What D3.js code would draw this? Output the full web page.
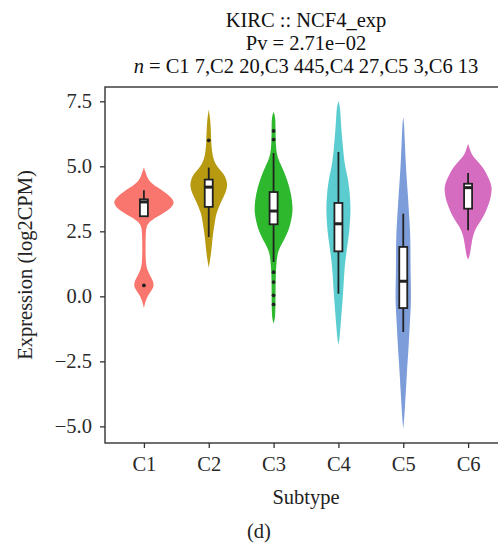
<!DOCTYPE html>
<html>
<head>
<meta charset="utf-8">
<script src="https://cdn.jsdelivr.net/npm/d3@7"></script>
<style>
  body { margin: 0; background: #fff; }
  svg text { font-family: "Liberation Serif", "DejaVu Serif", serif; }
</style>
</head>
<body>
<div id="chart"></div>
<script>
// subtypes and their colours
var subtypes = ["C1", "C2", "C3", "C4", "C5", "C6"];
var colors = ["#F8766D", "#B79A10", "#2DB82D", "#5BCDD0", "#7C9CDA", "#D66CC0"];
var yTicks = [-5, -2.5, 0, 2.5, 5, 7.5];

// violin outlines: [expression, relative density]
var densC1 = [[4.95,0],[4.8,0.05],[4.6,0.1],[4.4,0.2],[4.2,0.43],[4.0,0.7],[3.8,0.9],[3.65,1.0],[3.5,0.97],[3.3,0.8],[3.1,0.5],[2.9,0.2],[2.7,0.08],[2.4,0.06],[2.0,0.053],[1.6,0.053],[1.2,0.07],[1.0,0.12],[0.8,0.2],[0.6,0.3],[0.45,0.33],[0.3,0.3],[0.1,0.17],[-0.1,0.08],[-0.3,0.03],[-0.45,0]];
var densC2 = [[7.18,0],[6.8,0.05],[6.4,0.07],[6.0,0.08],[5.6,0.1],[5.23,0.16],[4.95,0.3],[4.72,0.5],[4.45,0.6],[4.23,0.62],[3.95,0.55],[3.69,0.43],[3.4,0.33],[3.18,0.25],[2.85,0.2],[2.54,0.16],[2.2,0.12],[1.9,0.1],[1.5,0.06],[1.1,0]];
var densC3 = [[7.09,0],[6.9,0.06],[6.5,0.065],[6.0,0.07],[5.8,0.08],[5.49,0.1],[5.2,0.18],[4.97,0.28],[4.46,0.46],[3.95,0.58],[3.5,0.63],[3.2,0.63],[2.9,0.58],[2.54,0.5],[2.3,0.4],[2.03,0.28],[1.8,0.18],[1.64,0.13],[1.13,0.08],[0.5,0.065],[0,0.065],[-0.6,0.06],[-0.9,0.04],[-1.04,0]];
var densC4 = [[7.51,0],[7.3,0.05],[7.03,0.067],[6.38,0.1],[5.74,0.15],[5.1,0.2],[4.59,0.31],[3.95,0.38],[3.5,0.4],[3.18,0.4],[2.54,0.37],[1.9,0.29],[1.13,0.2],[0.36,0.17],[-0.41,0.12],[-1.18,0.067],[-1.6,0.04],[-1.88,0]];
var densC5 = [[6.9,0],[6.6,0.03],[6.0,0.05],[5.2,0.08],[4.59,0.11],[3.8,0.16],[3.18,0.19],[2.5,0.23],[1.8,0.24],[1.2,0.24],[0.5,0.25],[-0.15,0.26],[-0.8,0.23],[-1.44,0.2],[-2.1,0.17],[-2.72,0.13],[-3.4,0.1],[-4.0,0.067],[-4.6,0.04],[-5.09,0]];
var densC6 = [[5.87,0],[5.7,0.05],[5.49,0.1],[5.3,0.22],[5.1,0.39],[4.9,0.52],[4.72,0.61],[4.45,0.72],[4.2,0.79],[3.95,0.77],[3.69,0.73],[3.45,0.65],[3.18,0.56],[2.9,0.42],[2.67,0.28],[2.4,0.18],[2.15,0.13],[1.77,0.083],[1.55,0.05],[1.41,0]];
var densities = [densC1, densC2, densC3, densC4, densC5, densC6];

// boxplot stats per subtype
var whiskLo = [3.08, 2.28, 1.32, 0.10, -1.37, 2.54];
var q1 = [3.08, 3.44, 2.77, 1.73, -0.45, 3.37];
var median = [3.63, 4.20, 3.28, 2.79, 0.58, 4.18];
var q3 = [3.73, 4.49, 4.01, 3.59, 1.90, 4.33];
var whiskHi = [4.08, 4.95, 5.51, 5.55, 3.18, 4.74];
// outliers: [subtype, value]
var outliers = [["C1", 0.42], ["C2", 6.0], ["C3", 6.36], ["C3", 6.03], ["C3", 0.93], ["C3", 0.55], ["C3", 0.04], ["C3", -0.31]];

var titleLines = ["KIRC :: NCF4_exp", "Pv = 2.71e\u221202"];
var nCounts = [7, 20, 445, 27, 3, 13];

var svgWidth = 498, svgHeight = 548;
var panel = { left: 105, right: 507, top: 87, bottom: 443 };
var fontSize = "20.5px";
var serif = "'Liberation Serif', 'DejaVu Serif', serif";

var svg = d3.select("#chart").append("svg")
    .attr("width", svgWidth)
    .attr("height", svgHeight);

var x = d3.scalePoint()
    .domain(subtypes)
    .range([panel.left, panel.right])
    .padding(0.6);

var y = d3.scaleLinear()
    .domain([-5.64, 8.05])
    .range([panel.bottom, panel.top]);

// half width of a violin, C1's peak is the widest
var w = d3.scaleLinear().domain([0, 1]).range([0, x.step() * 0.465]);

// violins
subtypes.forEach(function(s, i) {
    var cx = x(s);
    var area = d3.area()
        .curve(d3.curveBasis)
        .y(d => y(d[0]))
        .x0(d => cx - w(d[1]))
        .x1(d => cx + w(d[1]));
    svg.append("path")
        .datum(densities[i])
        .attr("d", area)
        .attr("fill", colors[i]);
});

// boxplots
var boxW = 8;
subtypes.forEach(function(s, i) {
    var cx = x(s);
    var g = svg.append("g").attr("stroke", "#222").attr("stroke-width", 1.8);
    g.append("line").attr("x1", cx).attr("x2", cx).attr("y1", y(q3[i])).attr("y2", y(whiskHi[i]));
    g.append("line").attr("x1", cx).attr("x2", cx).attr("y1", y(q1[i])).attr("y2", y(whiskLo[i]));
    g.append("rect")
        .attr("x", cx - boxW / 2)
        .attr("y", y(q3[i]))
        .attr("width", boxW)
        .attr("height", y(q1[i]) - y(q3[i]))
        .attr("fill", "#fff");
    g.append("line")
        .attr("x1", cx - boxW / 2).attr("x2", cx + boxW / 2)
        .attr("y1", y(median[i])).attr("y2", y(median[i]))
        .attr("stroke-width", 3);
});

svg.selectAll("circle.out")
    .data(outliers)
    .enter()
    .append("circle")
    .attr("class", "out")
    .attr("cx", d => x(d[0]))
    .attr("cy", d => y(d[1]))
    .attr("r", 1.9)
    .attr("fill", "#222");

// panel frame (top + left + bottom, right runs off the image)
svg.append("rect")
    .attr("x", panel.left)
    .attr("y", panel.top)
    .attr("width", panel.right - panel.left)
    .attr("height", panel.bottom - panel.top)
    .attr("fill", "none")
    .attr("stroke", "#333")
    .attr("stroke-width", 1.4);

// axes
var yAxis = svg.append("g")
    .attr("transform", `translate(${panel.left},0)`)
    .call(d3.axisLeft(y).tickValues(yTicks).tickFormat(d3.format(".1f")).tickSize(5).tickPadding(8));
var xAxis = svg.append("g")
    .attr("transform", `translate(0,${panel.bottom})`)
    .call(d3.axisBottom(x).tickSize(5).tickPadding(8));

[yAxis, xAxis].forEach(function(a) {
    a.attr("font-family", serif).attr("font-size", fontSize);
    a.select(".domain").remove();
    a.selectAll("line").attr("stroke", "#333").attr("stroke-width", 1.3);
    a.selectAll("text").attr("fill", "#2a2a2a");
});

// titles
var cxMid = (panel.left + panel.right) / 2;
titleLines.forEach(function(t, i) {
    svg.append("text")
        .attr("x", cxMid)
        .attr("y", 26.5 + i * 23)
        .attr("text-anchor", "middle")
        .style("font-size", fontSize)
        .attr("fill", "#111")
        .text(t);
});
var nLine = svg.append("text")
    .attr("x", cxMid)
    .attr("y", 72.5)
    .attr("text-anchor", "middle")
    .style("font-size", fontSize)
    .attr("fill", "#111");
nLine.append("tspan").style("font-style", "italic").text("n");
nLine.append("tspan").text(" = " + subtypes.map((s, i) => s + " " + nCounts[i]).join(","));

// axis titles
svg.append("text")
    .attr("x", cxMid)
    .attr("y", 504)
    .attr("text-anchor", "middle")
    .style("font-size", fontSize)
    .attr("fill", "#222")
    .text("Subtype");

svg.append("text")
    .attr("transform", `translate(32,${(panel.top + panel.bottom) / 2}) rotate(-90)`)
    .attr("text-anchor", "middle")
    .style("font-size", fontSize)
    .attr("fill", "#222")
    .text("Expression (log2CPM)");

svg.append("text")
    .attr("x", 259)
    .attr("y", 538)
    .attr("text-anchor", "middle")
    .style("font-size", fontSize)
    .attr("fill", "#222")
    .text("(d)");
</script>
</body>
</html>
